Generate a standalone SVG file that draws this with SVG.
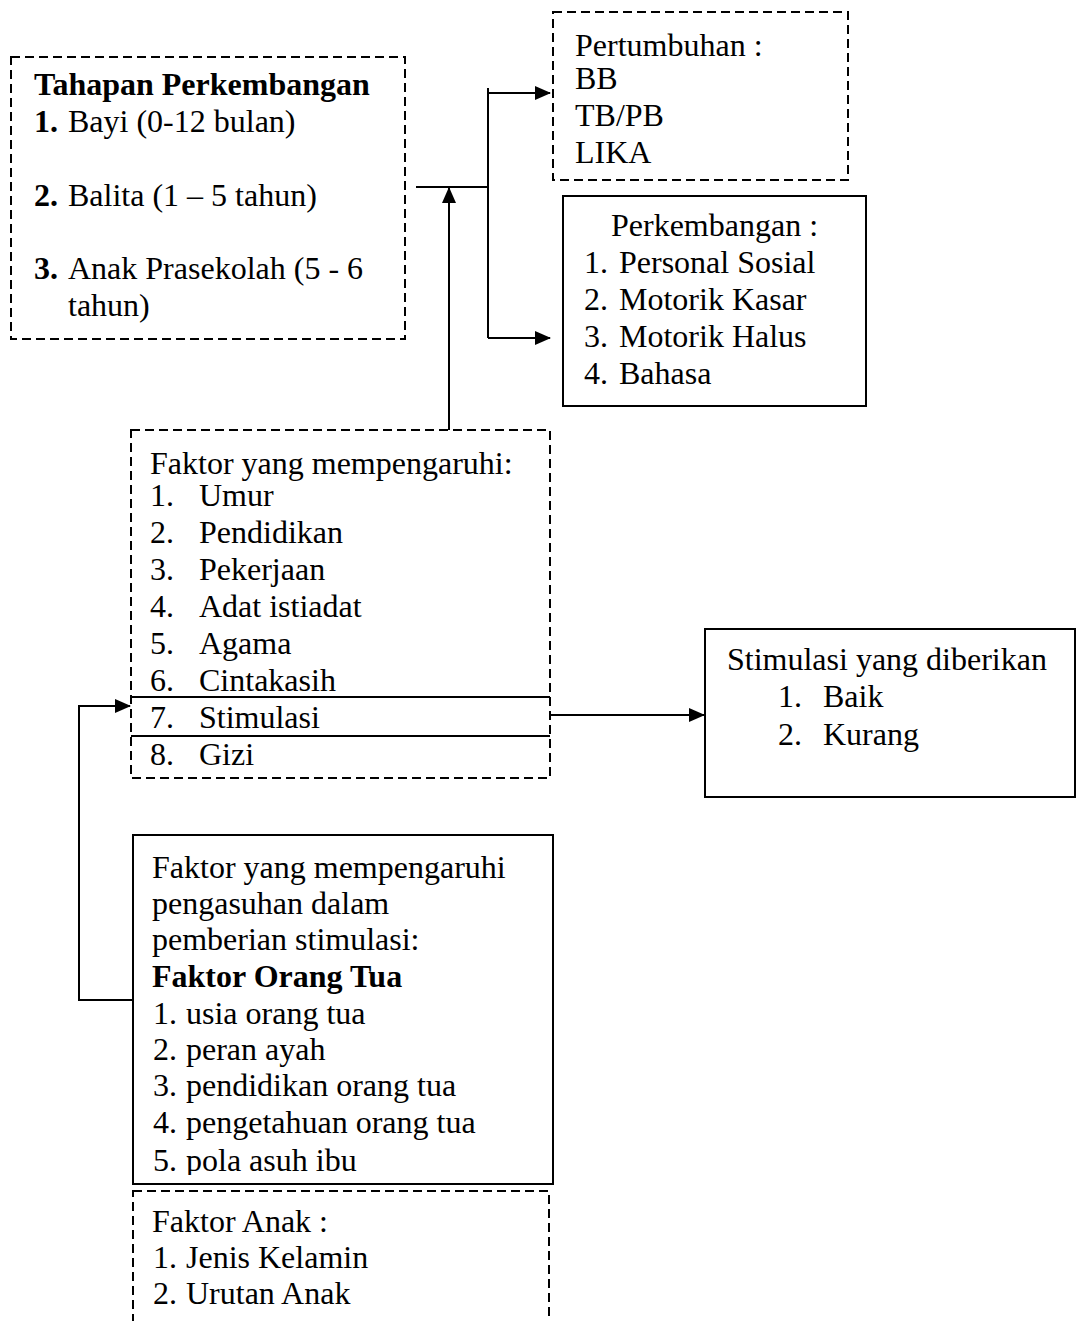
<svg xmlns="http://www.w3.org/2000/svg" width="1076" height="1321" viewBox="0 0 1076 1321">
<style>
text{font-family:"Liberation Serif","Times New Roman",serif;font-size:32px;fill:#000}
.b{font-weight:bold}
.box{fill:none;stroke:#000;stroke-width:2}
.dash{stroke-dasharray:9 5}
.ln{fill:none;stroke:#000;stroke-width:2}
</style>
<defs>
<marker id="ah" markerUnits="userSpaceOnUse" markerWidth="16" markerHeight="14" refX="15" refY="7" orient="auto">
<path d="M0,0 L16,7 L0,14 Z" fill="#000"/>
</marker>
</defs>
<rect width="1076" height="1321" fill="#fff"/>

<g id="tahapan">
<rect class="box dash" x="11" y="57" width="394" height="282"/>
<text class="b" x="34" y="95">Tahapan Perkembangan</text>
<text x="34" y="132"><tspan class="b">1.</tspan><tspan x="68">Bayi (0-12 bulan)</tspan></text>
<text x="34" y="206"><tspan class="b">2.</tspan><tspan x="68">Balita (1 – 5 tahun)</tspan></text>
<text x="34" y="279"><tspan class="b">3.</tspan><tspan x="68">Anak Prasekolah (5 - 6</tspan></text>
<text x="68" y="316">tahun)</text>
</g>

<g id="pertumbuhan">
<rect class="box dash" x="553" y="12" width="295" height="168"/>
<text x="575" y="56">Pertumbuhan :</text>
<text x="575" y="89">BB</text>
<text x="575" y="126">TB/PB</text>
<text x="575" y="163">LIKA</text>
</g>

<g id="perkembangan">
<rect class="box" x="563" y="196" width="303" height="210"/>
<text x="611" y="236">Perkembangan :</text>
<text x="584" y="273">1.<tspan x="619">Personal Sosial</tspan></text>
<text x="584" y="310">2.<tspan x="619">Motorik Kasar</tspan></text>
<text x="584" y="347">3.<tspan x="619">Motorik Halus</tspan></text>
<text x="584" y="384">4.<tspan x="619">Bahasa</tspan></text>
</g>

<g id="faktor">
<rect class="box dash" x="131" y="430" width="419" height="348"/>
<line class="ln" x1="131" y1="697" x2="550" y2="697"/>
<line class="ln" x1="131" y1="736" x2="550" y2="736"/>
<text x="150" y="474">Faktor yang mempengaruhi:</text>
<text x="150" y="506">1.<tspan x="199">Umur</tspan></text>
<text x="150" y="543">2.<tspan x="199">Pendidikan</tspan></text>
<text x="150" y="580">3.<tspan x="199">Pekerjaan</tspan></text>
<text x="150" y="617">4.<tspan x="199">Adat istiadat</tspan></text>
<text x="150" y="654">5.<tspan x="199">Agama</tspan></text>
<text x="150" y="691">6.<tspan x="199">Cintakasih</tspan></text>
<text x="150" y="728">7.<tspan x="199">Stimulasi</tspan></text>
<text x="150" y="765">8.<tspan x="199">Gizi</tspan></text>
</g>

<g id="stimulasi">
<rect class="box" x="705" y="629" width="370" height="168"/>
<text x="727" y="670">Stimulasi yang diberikan</text>
<text x="778" y="707">1.<tspan x="823">Baik</tspan></text>
<text x="778" y="745">2.<tspan x="823">Kurang</tspan></text>
</g>

<g id="orangtua">
<text x="152" y="878">Faktor yang mempengaruhi</text>
<text x="152" y="914">pengasuhan dalam</text>
<text x="152" y="950">pemberian stimulasi:</text>
<text class="b" x="152" y="987">Faktor Orang Tua</text>
<text x="153" y="1024">1.<tspan x="186">usia orang tua</tspan></text>
<text x="153" y="1060">2.<tspan x="186">peran ayah</tspan></text>
<text x="153" y="1096">3.<tspan x="186">pendidikan orang tua</tspan></text>
<text x="153" y="1133">4.<tspan x="186">pengetahuan orang tua</tspan></text>
<text x="153" y="1171">5.<tspan x="186">pola asuh ibu</tspan></text>
<rect x="133" y="1175" width="420" height="8" fill="#fff"/>
<rect class="box" x="133" y="835" width="420" height="349"/>
</g>

<g id="anak">
<rect class="box dash" x="133" y="1191" width="416" height="140"/>
<text x="152" y="1232">Faktor Anak :</text>
<text x="153" y="1268">1.<tspan x="186">Jenis Kelamin</tspan></text>
<text x="153" y="1304">2.<tspan x="186">Urutan Anak</tspan></text>
</g>

<g id="connectors">
<polyline class="ln" points="416,187 488,187"/>
<polyline class="ln" points="488,88 488,338"/>
<line class="ln" x1="488" y1="93" x2="550" y2="93" marker-end="url(#ah)"/>
<line class="ln" x1="488" y1="338" x2="550" y2="338" marker-end="url(#ah)"/>
<line class="ln" x1="449" y1="430" x2="449" y2="188" marker-end="url(#ah)"/>
<line class="ln" x1="550" y1="715" x2="704" y2="715" marker-end="url(#ah)"/>
<polyline class="ln" points="133,1000 79,1000 79,706 130,706" marker-end="url(#ah)"/>
</g>
</svg>
